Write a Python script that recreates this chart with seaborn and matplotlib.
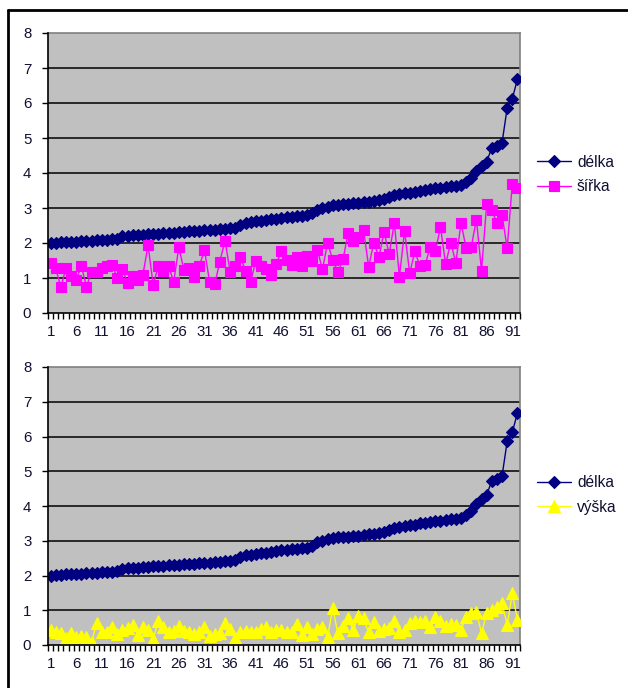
import numpy as np
import pandas as pd
import matplotlib
matplotlib.use("Agg")
import matplotlib.pyplot as plt
from matplotlib.lines import Line2D
from matplotlib.ticker import FixedLocator, NullFormatter
import seaborn as sns

# ---- data -------------------------------------------------------------
delka = [
    2.00, 2.01, 2.02, 2.03, 2.04, 2.04, 2.05, 2.06, 2.07, 2.08, 2.09, 2.10, 2.11, 2.12,
    2.20, 2.21, 2.22, 2.23, 2.24, 2.25, 2.26, 2.27, 2.28, 2.29, 2.30,
    2.31, 2.32, 2.33, 2.34, 2.35, 2.36, 2.37, 2.38, 2.40, 2.41, 2.42, 2.44,
    2.52, 2.58, 2.60, 2.62, 2.64, 2.66, 2.68, 2.70, 2.72,
    2.74, 2.75, 2.76, 2.78, 2.80, 2.86, 2.95,
    3.00, 3.04, 3.08, 3.10, 3.11, 3.12, 3.13,
    3.15, 3.17, 3.18, 3.20, 3.22, 3.26,
    3.32, 3.36, 3.40, 3.42, 3.44, 3.46,
    3.50, 3.52, 3.54, 3.56, 3.58, 3.60, 3.62, 3.64,
    3.66, 3.75, 3.85, 4.05, 4.20, 4.32, 4.72, 4.78, 4.86, 5.86, 6.12, 6.68,
]

sirka = [
    1.44, 1.28, 0.73, 1.28, 1.06, 0.94, 1.34, 0.75, 1.18, 1.18,
    1.28, 1.33, 1.38, 0.99, 1.25, 0.87, 1.06, 0.94, 1.09, 1.94,
    0.80, 1.34, 1.21, 1.34, 0.89, 1.88, 1.23, 1.28, 1.02, 1.34,
    1.80, 0.89, 0.83, 1.47, 2.07, 1.18, 1.34, 1.59, 1.21, 0.89,
    1.49, 1.34, 1.25, 1.09, 1.40, 1.78, 1.51, 1.37, 1.59, 1.34,
    1.63, 1.49, 1.80, 1.25, 2.01, 1.51, 1.18, 1.53, 2.29, 2.07,
    2.18, 2.38, 1.32, 2.01, 1.59, 2.32, 1.68, 2.58, 1.04, 2.35,
    1.13, 1.76, 1.34, 1.37, 1.89, 1.76, 2.45, 1.40, 2.01, 1.44,
    2.58, 1.85, 1.89, 2.67, 1.21, 3.11, 2.94, 2.56, 2.80, 1.85,
    3.70, 3.56,
]

vyska = [
    0.43, 0.38, 0.34, 0.19, 0.34, 0.24, 0.26, 0.24, 0.10, 0.62,
    0.38, 0.38, 0.53, 0.32, 0.43, 0.48, 0.58, 0.29, 0.51, 0.43,
    0.16, 0.70, 0.51, 0.36, 0.41, 0.55, 0.41, 0.36, 0.32, 0.38,
    0.51, 0.26, 0.32, 0.34, 0.64, 0.45, 0.19, 0.38, 0.41, 0.38,
    0.38, 0.45, 0.51, 0.38, 0.43,
    0.43, 0.36, 0.38, 0.60, 0.29, 0.51, 0.32, 0.45, 0.51, 0.24,
    1.06, 0.34, 0.55, 0.77, 0.43, 0.83, 0.77, 0.36, 0.67, 0.41,
    0.45, 0.48, 0.70, 0.36, 0.43, 0.62, 0.70, 0.67, 0.70, 0.51,
    0.80, 0.70, 0.55, 0.60, 0.58, 0.43, 0.82, 0.93, 0.96, 0.34,
    0.91, 1.01, 1.10, 1.20, 0.58, 1.49, 0.72,
]

idx = np.arange(1, len(delka) + 1)
x_tick_labels = [str(v) for v in range(1, len(delka) + 1, 5)]
y_ticks = list(range(0, 9))

df = pd.DataFrame({"poradi": idx, "délka": delka, "šířka": sirka, "výška": vyska})

# ---- style ------------------------------------------------------------
sns.set_theme(style="white")
plt.rcParams["font.family"] = ["Liberation Sans", "DejaVu Sans"]

NAVY = "#000080"
MAGENTA = "#FF00FF"
YELLOW = "#FFFF00"
PLOT_BG = "#C0C0C0"
TEXT = "#101030"

W, H = 628, 688
fig = plt.figure(figsize=(W / 100, H / 100), dpi=100)
fig.patch.set_facecolor("white")


def px_axes(left, top, right, bottom):
    return fig.add_axes([left / W, 1 - bottom / H, (right - left) / W, (bottom - top) / H])


ax_top = px_axes(48, 33, 520, 313)
ax_bot = px_axes(48, 367, 520, 645)

series_sets = [
    (ax_top, [("délka", NAVY, "D", 6.0), ("šířka", MAGENTA, "s", 6.5)], 0.495),
    (ax_bot, [("délka", NAVY, "D", 6.0), ("výška", YELLOW, "^", 8.0)], 0.54),
]

for ax, series, leg_y in series_sets:
    ax.set_facecolor(PLOT_BG)
    for name, col, mk, ms in series:
        sns.lineplot(data=df, x="poradi", y=name, ax=ax, color=col, marker=mk,
                     markersize=ms, markeredgecolor=col, markeredgewidth=0.8,
                     linewidth=1.0, label=name, zorder=3)

    ax.set_xlim(0.5, len(delka) + 0.5)
    ax.set_ylim(0, 8)
    ax.set_xlabel("")
    ax.set_ylabel("")

    # horizontal gridlines
    for yv in y_ticks[1:-1]:
        ax.axhline(yv, color="black", linewidth=1.1, zorder=1)

    ax.set_yticks(y_ticks)
    ax.set_yticklabels([str(v) for v in y_ticks])
    ax.set_xticks(list(range(1, len(delka) + 1, 5)))
    ax.set_xticklabels(x_tick_labels)
    ax.xaxis.set_minor_locator(FixedLocator(np.arange(0.5, len(delka) + 1, 1.0)))
    ax.xaxis.set_minor_formatter(NullFormatter())

    ax.tick_params(axis="x", which="major", length=0, pad=9, labelsize=10.8, labelcolor=TEXT)
    ax.tick_params(axis="x", which="minor", direction="out", length=4, width=1, color="black")
    ax.tick_params(axis="y", which="major", direction="out", length=4, width=1,
                   color="black", labelsize=10.8, pad=8, labelcolor=TEXT)
    ax.tick_params(left=True, bottom=True, which="both")

    for side in ("top", "right"):
        ax.spines[side].set_color("#808080")
        ax.spines[side].set_linewidth(1.2)
    for side in ("left", "bottom"):
        ax.spines[side].set_color("black")
        ax.spines[side].set_linewidth(1.2)
        ax.spines[side].set_zorder(4)

    leg = ax.legend(loc="center left", bbox_to_anchor=(1.035, leg_y), frameon=False,
                    fontsize=11.2, handlelength=2.2, handletextpad=0.4,
                    borderpad=0, borderaxespad=0, labelspacing=0.6)
    for t in leg.get_texts():
        t.set_color(TEXT)

# outer frame (left and top edges)
fig.add_artist(Line2D([8 / W, 8 / W], [0, 1 - 10 / H], transform=fig.transFigure,
                      color="black", linewidth=2))
fig.add_artist(Line2D([8 / W, 1], [1 - 10 / H, 1 - 10 / H], transform=fig.transFigure,
                      color="black", linewidth=2))

fig.savefig("out.png", dpi=100, facecolor="white")
